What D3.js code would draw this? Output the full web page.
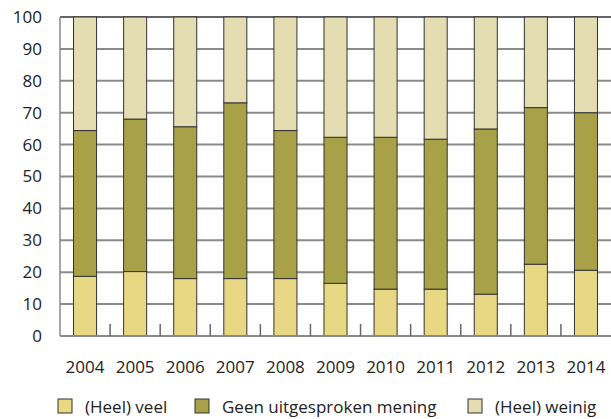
<!DOCTYPE html>
<html>
<head>
<meta charset="utf-8">
<script src="https://cdn.jsdelivr.net/npm/d3@7"></script>
<style>
  body { margin: 0; background: #fff; }
  text { font-family: "Open Sans", "DejaVu Sans", sans-serif; fill: #222; }
</style>
</head>
<body>
<div id="chart"></div>
<script>
// jaren en aandelen (%) per antwoordcategorie
var years = ["2004", "2005", "2006", "2007", "2008", "2009", "2010", "2011", "2012", "2013", "2014"];
var veel = [18.7, 20.2, 18.0, 18.0, 18.0, 16.5, 14.7, 14.7, 13.1, 22.5, 20.6];
var geen = [45.7, 47.8, 47.6, 55.1, 46.4, 45.8, 47.6, 47.0, 51.8, 49.1, 49.4];
var weinig = [35.6, 32.0, 34.4, 26.9, 35.6, 37.7, 37.7, 38.3, 35.1, 28.4, 30.0];
var yTicks = [0, 10, 20, 30, 40, 50, 60, 70, 80, 90, 100];
var keys = ["veel", "geen", "weinig"];
var labels = ["(Heel) veel", "Geen uitgesproken mening", "(Heel) weinig"];
var colors = ["#e8d783", "#a8a148", "#e3ddb1"];

var W = 611, H = 419;
var m = { left: 60, right: 0, top: 17, bottom: 83 };
var fs = 17;

var rows = years.map(function(y, i) {
  return { year: y, veel: veel[i], geen: geen[i], weinig: weinig[i] };
});

var svg = d3.select("#chart").append("svg")
  .attr("width", W)
  .attr("height", H);

var x = d3.scaleBand().domain(years).range([m.left, W - m.right]).paddingInner(0.54).paddingOuter(0.27);
var y = d3.scaleLinear().domain([0, 100]).range([H - m.bottom, m.top]);

// rasterlijnen
svg.append("g").selectAll("line").data(yTicks.filter(function(d) { return d > 0; }))
  .enter().append("line")
  .attr("x1", m.left).attr("x2", W)
  .attr("y1", function(d) { return y(d); })
  .attr("y2", function(d) { return y(d); })
  .attr("stroke", function(d) { return d === 100 ? "#333" : "#8a8a8a"; })
  .attr("stroke-width", function(d) { return d === 100 ? 1.5 : 2; });

// y-as labels
var yAxis = d3.axisLeft(y).tickValues(yTicks).tickSize(0).tickPadding(18);
var gy = svg.append("g").attr("transform", "translate(" + m.left + ",0)").call(yAxis);
gy.select(".domain").remove();
gy.selectAll("text").attr("font-size", fs).attr("fill", "#222")
  .style("font-family", "'Open Sans', sans-serif");

// gestapelde staven
var stack = d3.stack().keys(keys);
var series = stack(rows);
svg.append("g").selectAll("g").data(series).enter().append("g")
  .attr("fill", function(d, i) { return colors[i]; })
  .selectAll("rect").data(function(d) { return d; }).enter().append("rect")
  .attr("x", function(d) { return x(d.data.year); })
  .attr("width", x.bandwidth())
  .attr("y", function(d) { return y(d[1]); })
  .attr("height", function(d) { return y(d[0]) - y(d[1]); })
  .attr("stroke", "#333")
  .attr("stroke-width", 1);

// assen
svg.append("line")
  .attr("x1", m.left).attr("x2", m.left)
  .attr("y1", y(100)).attr("y2", y(0))
  .attr("stroke", "#8a8a8a").attr("stroke-width", 1.5);
svg.append("line")
  .attr("x1", m.left).attr("x2", W)
  .attr("y1", y(0)).attr("y2", y(0))
  .attr("stroke", "#8a8a8a").attr("stroke-width", 2);
svg.append("g").selectAll("line").data(years.slice(1)).enter().append("line")
  .attr("x1", function(d) { return x(d) - x.step() * 0.27; })
  .attr("x2", function(d) { return x(d) - x.step() * 0.27; })
  .attr("y1", y(0)).attr("y2", y(0) - 12)
  .attr("stroke", "#666").attr("stroke-width", 1.5);

// x-as labels
svg.append("g").selectAll("text").data(years).enter().append("text")
  .attr("x", function(d) { return x(d) + x.bandwidth() / 2; })
  .attr("y", 373)
  .attr("text-anchor", "middle")
  .attr("font-size", fs)
  .text(function(d) { return d; });

// legenda
var legX = [58, 195, 468];
var leg = svg.append("g").selectAll("g").data(labels).enter().append("g")
  .attr("transform", function(d, i) { return "translate(" + legX[i] + ",399)"; });
leg.append("rect")
  .attr("width", 14).attr("height", 14)
  .attr("fill", function(d, i) { return colors[i]; })
  .attr("stroke", "#333").attr("stroke-width", 1);
leg.append("text")
  .attr("x", 27).attr("y", 13.5)
  .attr("font-size", fs)
  .text(function(d) { return d; });
</script>
</body>
</html>
